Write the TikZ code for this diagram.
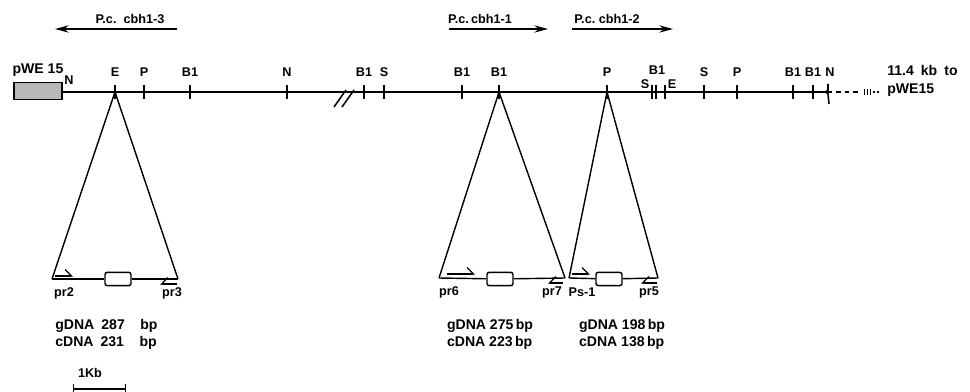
\documentclass[tikz,border=0pt]{standalone}
\usepackage{fontspec}
\setmainfont{Liberation Sans}
\usetikzlibrary{arrows.meta, positioning, calc}
\tikzset{
	mapline/.style={line width=1.1pt},
	sitetick/.style={line width=1.1pt},
	sitelab/.style={font=\bfseries\small, inner sep=0pt},
	vecbox/.style={rectangle, draw, line width=1.1pt, fill=black!28, minimum width=1.2cm, minimum height=0.42cm, inner sep=0pt},
	genelab/.style={font=\bfseries\small, inner sep=0pt},
	genearrow/.style={-{Stealth[length=3.4mm, width=1.8mm]}, line width=1.2pt},
	expline/.style={line width=1pt},
	exonbox/.style={rectangle, rounded corners=1.5pt, draw, line width=1pt, fill=white, minimum width=0.65cm, minimum height=0.33cm, inner sep=0pt},
	primer/.style={-{Straight Barb[harpoon, length=1.6mm]}, line width=0.9pt},
	revprimer/.style={-{Straight Barb[harpoon, swap, length=1.6mm]}, line width=0.9pt},
	primerlab/.style={font=\bfseries\small, inner sep=0pt},
	sizelab/.style={font=\bfseries, inner sep=0pt, align=left},
}

\begin{document}
\begin{tikzpicture}[x=0.025cm, y=-0.025cm]
	\useasboundingbox (0,0) rectangle (970,392);

	% genes above the map
	\node[genelab] (lab3) at (130,19) {P.c.\ \ cbh1-3};
	\node[genelab] (lab1) at (480,19) {P.c.\,cbh1-1};
	\node[genelab] (lab2) at (607,19) {P.c.\ cbh1-2};
	\coordinate (g3a) at (177,29); \coordinate (g3b) at (55,29);
	\coordinate (g1a) at (449,29); \coordinate (g1b) at (548,29);
	\coordinate (g2a) at (572,29); \coordinate (g2b) at (673,29);
	\draw[genearrow] (g3a) -- (g3b);
	\draw[genearrow] (g1a) -- (g1b);
	\draw[genearrow] (g2a) -- (g2b);

	% restriction map
	\node[vecbox] (vec) at (38,91) {};
	\node[sitelab, font=\bfseries] (veclab) at (38,70) {pWE 15};
	\node[sitelab] (vecN) at (69,80) {N};
	\coordinate (mapend) at (828,92);
	\draw[mapline] (vec.east |- mapend) -- (mapend);
	\foreach \nm/\x/\lab in {sE/115/E, sP1/144/P, sB1/190/B1, sN1/287/N, sB2/364/B1, sS1/384/S,
		sB3/462/B1, sB4/499/B1, sP2/607/P, sS3/704/S, sP3/737/P, sB6/793/B1, sB7/813/B1}{
		\coordinate (\nm) at (\x,92);
		\draw[sitetick] ($(\nm)+(0,-7)$) -- ($(\nm)+(0,7)$);
		\node[sitelab] at ($(\nm)+(0,-20)$) {\lab};
	}
	\foreach \nm/\x in {sS2/652, sB5/656, sE2/665}{
		\coordinate (\nm) at (\x,92);
		\draw[sitetick] ($(\nm)+(0,-7)$) -- ($(\nm)+(0,7)$);
	}
	\node[sitelab] at (645,84) {S};
	\node[sitelab] at (657,70) {B1};
	\node[sitelab] at (672,84) {E};
	\node[sitelab] at (830,72) {N};
	\draw[sitetick] ($(mapend)+(0,-8)$) -- ($(mapend)+(0,-2)$) -- ($(mapend)+(-2,0)$) -- ($(mapend)+(0,2)$) -- ($(mapend)+(1,12)$);
	% break in the map
	\draw[mapline] (334,107) -- (346,90);
	\draw[mapline] (342,107) -- (354,90);
	% rest of the cosmid
	\coordinate (tail) at (860,92);
	\draw[dashed, line width=0.8pt] (mapend) -- (tail);
	\foreach \x in {864,867,870}{\draw[line width=0.7pt] (\x,89) -- (\x,95);}
	\foreach \x in {874,878}{\fill (\x,92) circle (1pt);}
	\node[sitelab, font=\bfseries, anchor=west] (endlab) at (887,70) {11.4\hspace{5pt}kb\hspace{5pt}to};
	\node[sitelab, font=\bfseries, anchor=west] at (887,90) {pWE15};

	% expanded fragments
	\coordinate (aL) at (52,279); \coordinate (aR) at (178,279);
	\node[exonbox] (ex3) at (118,279) {};
	\draw[expline] (aL) -- (sE) -- (aR);
	\draw[expline] (aL) -- (ex3) -- (aR);
	\draw[primer] (55,276) -- (73,276);
	\draw[revprimer] (177,284) -- (160,284);
	\node[primerlab] at (64,293) {pr2};
	\node[primerlab] at (172,293) {pr3};

	\coordinate (bL) at (439,278); \coordinate (bR) at (565,278);
	\node[exonbox] (ex1) at (500,279) {};
	\draw[expline] (bL) -- (sB4) -- (bR);
	\draw[expline] (bL) -- (ex1) -- (bR);
	\draw[primer] (447,274) -- (475,274);
	\draw[revprimer] (563,283) -- (548,283);
	\node[primerlab] at (449,292) {pr6};
	\node[primerlab] at (552,292) {pr7};

	\coordinate (cL) at (569,278); \coordinate (cR) at (658,278);
	\node[exonbox] (ex2) at (609,279) {};
	\draw[expline] (cL) -- (sP2) -- (cR);
	\draw[expline] (cL) -- (ex2) -- (cR);
	\draw[primer] (572,274) -- (590,274);
	\draw[revprimer] (657,283) -- (641,283);
	\node[primerlab] at (582,292) {Ps-1};
	\node[primerlab] at (649,292) {pr5};

	% fragment sizes
	\node[sizelab, anchor=west] (size3) at (55,334) {gDNA\hspace{5pt}287\hspace{11pt}bp\\cDNA\hspace{5pt}231\hspace{11pt}bp};
	\node[sizelab] (size1) at (490,334) {gDNA 275\,bp\\cDNA 223\,bp};
	\node[sizelab] (size2) at (622,334) {gDNA 198\,bp\\cDNA 138\,bp};

	% scale
	\node[sitelab] (kb) at (90,373) {1Kb};
	\coordinate (kbL) at (73,389); \coordinate (kbR) at (126,389);
	\draw[line width=1pt, |-|] (kbL) -- (kbR);
\end{tikzpicture}
\end{document}
